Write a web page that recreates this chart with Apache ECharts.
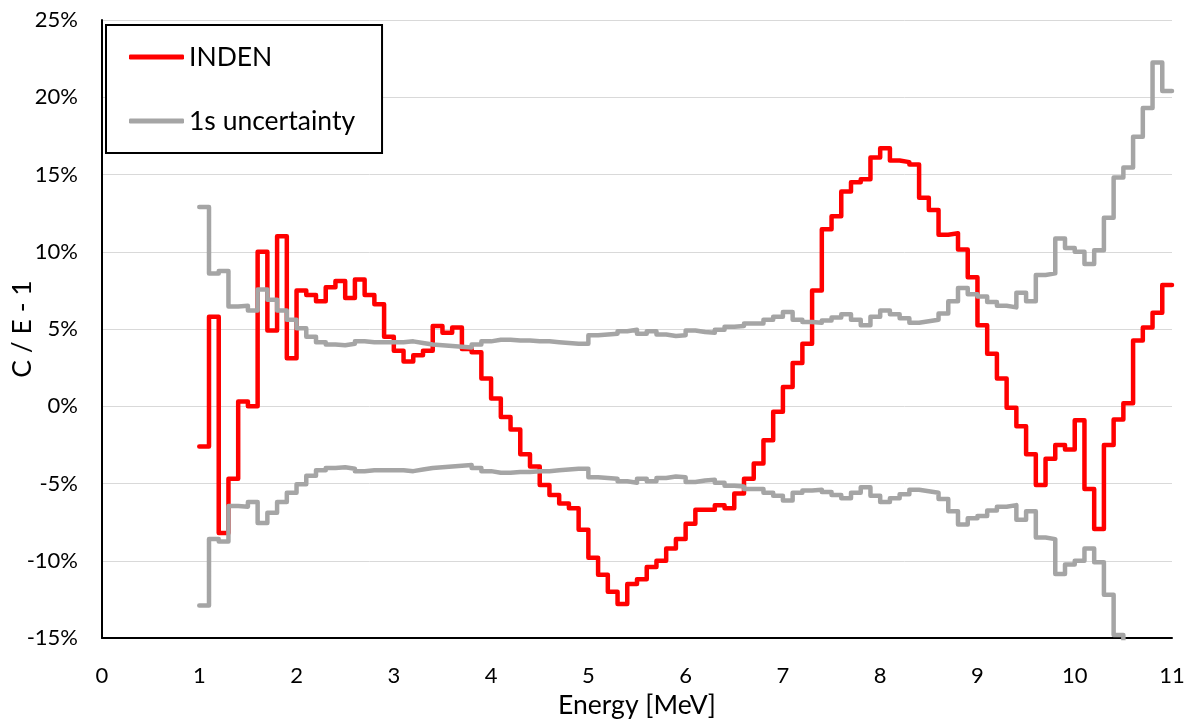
<!DOCTYPE html>
<html>
<head>
<meta charset="utf-8">
<script src="https://cdn.jsdelivr.net/npm/echarts@6/dist/echarts.min.js"></script>
<style>
  html, body { margin: 0; padding: 0; background: #ffffff; }
  #chart { width: 1194px; height: 720px; }
</style>
</head>
<body>
<div id="chart"></div>
<script>
// Energy bin edges [MeV], 0.1 MeV wide from 1.0 to 11.0
const energyEdges = [
  1.0, 1.1, 1.2, 1.3, 1.4, 1.5, 1.6, 1.7, 1.8, 1.9,
  2.0, 2.1, 2.2, 2.3, 2.4, 2.5, 2.6, 2.7, 2.8, 2.9,
  3.0, 3.1, 3.2, 3.3, 3.4, 3.5, 3.6, 3.7, 3.8, 3.9,
  4.0, 4.1, 4.2, 4.3, 4.4, 4.5, 4.6, 4.7, 4.8, 4.9,
  5.0, 5.1, 5.2, 5.3, 5.4, 5.5, 5.6, 5.7, 5.8, 5.9,
  6.0, 6.1, 6.2, 6.3, 6.4, 6.5, 6.6, 6.7, 6.8, 6.9,
  7.0, 7.1, 7.2, 7.3, 7.4, 7.5, 7.6, 7.7, 7.8, 7.9,
  8.0, 8.1, 8.2, 8.3, 8.4, 8.5, 8.6, 8.7, 8.8, 8.9,
  9.0, 9.1, 9.2, 9.3, 9.4, 9.5, 9.6, 9.7, 9.8, 9.9,
  10.0, 10.1, 10.2, 10.3, 10.4, 10.5, 10.6, 10.7, 10.8, 10.9,
  11.0
];

// C/E - 1 for INDEN, per bin [%]
const indenRatio = [
  -2.6, 5.8, -8.2, -4.7, 0.3, 0.0, 10.0, 4.9, 11.0, 3.1,
  7.5, 7.2, 6.8, 7.7, 8.1, 7.0, 8.2, 7.2, 6.6, 4.5,
  3.6, 2.9, 3.3, 3.6, 5.2, 4.75, 5.1, 3.7, 3.5, 1.8,
  0.5, -0.7, -1.5, -3.1, -3.9, -5.1, -5.75, -6.3, -6.6, -8.0,
  -9.8, -10.9, -12.0, -12.8, -11.5, -11.2, -10.4, -10.0, -9.2, -8.6,
  -7.6, -6.7, -6.7, -6.4, -6.6, -5.65, -4.7, -3.7, -2.2, -0.35,
  1.25, 2.8, 4.05, 7.5, 11.45, 12.3, 13.9, 14.5, 14.7, 16.1,
  16.7, 15.9, 15.8, 15.65, 13.5, 12.7, 11.1, 11.2, 10.15, 8.35,
  5.25, 3.4, 1.8, -0.1, -1.3, -3.1, -5.1, -3.4, -2.5, -2.8,
  -0.9, -5.35, -7.95, -2.5, -0.85, 0.2, 4.25, 5.1, 6.05, 7.85
];

// 1 sigma relative uncertainty, per bin [%]
const sigmaUnc = [
  12.9, 8.6, 8.75, 6.45, 6.5, 6.2, 7.55, 6.9, 6.2, 5.6,
  5.05, 4.5, 4.15, 4.0, 3.95, 4.05, 4.2, 4.15, 4.15, 4.15,
  4.15, 4.2, 4.1, 4.0, 3.95, 3.9, 3.85, 3.8, 4.0, 4.2,
  4.3, 4.3, 4.25, 4.25, 4.2, 4.2, 4.15, 4.1, 4.05, 4.05,
  4.6, 4.65, 4.7, 4.85, 4.95, 4.7, 4.85, 4.65, 4.55, 4.6,
  4.9, 4.8, 4.75, 4.95, 5.15, 5.2, 5.35, 5.35, 5.6, 5.8,
  6.1, 5.6, 5.45, 5.4, 5.55, 5.75, 5.95, 5.6, 5.25, 5.8,
  6.2, 5.95, 5.7, 5.4, 5.5, 5.6, 6.0, 6.8, 7.65, 7.25,
  7.1, 6.75, 6.5, 6.4, 7.35, 6.8, 8.5, 8.6, 10.85, 10.25,
  10.0, 9.2, 10.1, 12.2, 14.8, 15.45, 17.45, 19.3, 22.25, 20.4
];

const seriesNames = ['INDEN', '1s uncertainty'];
const xTicks = [0, 1, 2, 3, 4, 5, 6, 7, 8, 9, 10, 11];
const yTicks = [-15, -10, -5, 0, 5, 10, 15, 20, 25];

// Histogram as step points: each bin starts at its lower edge, closed at the last edge
function histogram(values, sign) {
  const pts = values.map((v, i) => [energyEdges[i], sign * v]);
  pts.push([energyEdges[values.length], sign * values[values.length - 1]]);
  return pts;
}

const FONT = 'Lato, "Noto Sans", sans-serif';
const chart = echarts.init(document.getElementById('chart'), null, { renderer: 'canvas' });

const stepLine = (name, color, data, z) => ({
  name: name,
  type: 'line',
  step: 'end',
  data: data,
  symbol: 'none',
  showSymbol: false,
  z: z,
  lineStyle: { color: color, width: 4.5, cap: 'round', join: 'round' },
  itemStyle: { color: color },
  emphasis: { disabled: true },
  animation: false
});

chart.setOption({
  animation: false,
  backgroundColor: '#ffffff',
  textStyle: { fontFamily: FONT },
  grid: { left: 102, right: 22, top: 20, bottom: 82, containLabel: false, outerBoundsMode: 'none' },
  legend: {
    data: seriesNames,
    orient: 'vertical',
    left: 106,
    top: 25,
    padding: [17, 27, 17, 23],
    itemGap: 34,
    itemWidth: 55,
    itemHeight: 5,
    icon: 'roundRect',
    backgroundColor: '#ffffff',
    borderColor: '#000000',
    borderWidth: 2,
    borderRadius: 0,
    textStyle: { fontFamily: FONT, fontSize: 26.5, color: '#000000', lineHeight: 30 }
  },
  xAxis: {
    type: 'value',
    min: xTicks[0],
    max: xTicks[xTicks.length - 1],
    interval: 1,
    name: 'Energy [MeV]',
    nameLocation: 'middle',
    nameGap: 54,
    nameMoveOverlap: false,
    nameTextStyle: { fontFamily: FONT, fontSize: 26.5, color: '#000000' },
    axisLine: { show: true, onZero: false, lineStyle: { color: '#000000', width: 2 } },
    axisTick: { show: false },
    splitLine: { show: false },
    axisLabel: { fontFamily: FONT, fontSize: 22, color: '#000000', margin: 27 }
  },
  yAxis: {
    type: 'value',
    min: yTicks[0],
    max: yTicks[yTicks.length - 1],
    interval: 5,
    name: 'C / E - 1',
    nameLocation: 'middle',
    nameGap: 66,
    nameRotate: 90,
    nameMoveOverlap: false,
    nameTextStyle: { fontFamily: FONT, fontSize: 26.5, color: '#000000' },
    axisLine: { show: true, onZero: false, lineStyle: { color: '#000000', width: 2 } },
    axisTick: { show: false },
    splitLine: { show: true, lineStyle: { color: '#d9d9d9', width: 1 } },
    axisLabel: { fontFamily: FONT, fontSize: 22, color: '#000000', margin: 24, formatter: v => v + '%' }
  },
  series: [
    stepLine(seriesNames[0], '#ff0000', histogram(indenRatio, 1), 2),
    stepLine(seriesNames[1], '#a5a5a5', histogram(sigmaUnc, 1), 3),
    stepLine(seriesNames[1], '#a5a5a5', histogram(sigmaUnc, -1), 3)
  ]
});
</script>
</body>
</html>
